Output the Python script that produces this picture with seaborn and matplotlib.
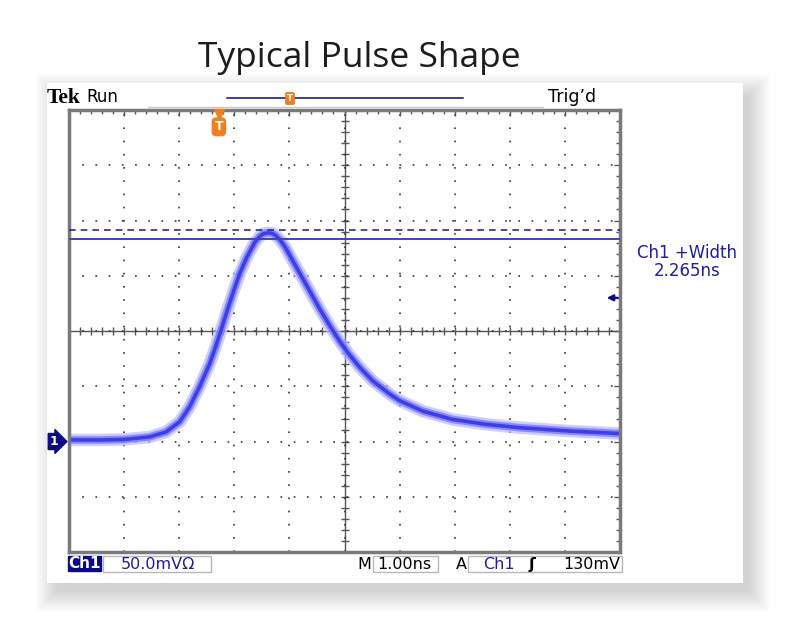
import numpy as np
import pandas as pd
import matplotlib.pyplot as plt
import matplotlib.ticker as mticker
from matplotlib.patches import Rectangle
import seaborn as sns


# Pulse trace (time in ns, amplitude in mV)
time_ns = [-5.01, -4.45, -4.01, -3.54, -3.24, -2.99, -2.81, -2.63, -2.45, -2.33,
           -2.24, -2.12, -2.00, -1.91, -1.78, -1.63, -1.55, -1.48, -1.40, -1.32,
           -1.25, -1.18, -1.09, -1.00, -0.82, -0.64, -0.45, -0.27, -0.09, 0.09,
           0.27, 0.51, 0.82, 1.00, 1.42, 1.96, 2.58, 3.18, 4.08, 4.99]
amp_mv = [1.4, 1.4, 1.8, 4.1, 8.6, 17.9, 31.5, 49.6, 70.0, 87.0,
          101.0, 120.0, 138.0, 151.0, 166.0, 180.0, 185.0, 187.8, 188.8, 188.5,
          186.5, 183.0, 177.0, 169.0, 153.0, 137.0, 120.0, 105.0, 91.0, 78.5,
          67.5, 55.0, 43.0, 37.0, 27.5, 20.0, 15.5, 12.5, 9.5, 7.2]

# scope settings / readouts
ns_per_div = 1.0
mv_per_div = 50.0
ground_mv = 0
cursor_solid_mv = 183
cursor_dashed_mv = 191
trigger_mv = 130
trigger_ns = -2.28

W, H = 792, 630
navy = '#1e1e9e'
dark_navy = '#0a0a84'
orange = '#f07f1e'


def fx(x):
    return x / W


def fy(y):
    return 1 - y / H


def pixBox(x0, y0, x1, y1, fc='white', ec='#b8b8b8', lw=1.0, z=2, alpha=1.0):
    fig.add_artist(Rectangle((fx(x0), fy(y1)), fx(x1) - fx(x0), fy(y0) - fy(y1),
                             transform=fig.transFigure, fc=fc, ec=ec, lw=lw,
                             zorder=z, alpha=alpha))


def pixText(x, y, s, **kw):
    kw.setdefault('family', 'DejaVu Sans')
    kw.setdefault('va', 'center')
    kw.setdefault('fontsize', 11.5)
    fig.text(fx(x), fy(y), s, **kw)


sns.set_style('white')
fig = plt.figure(figsize=(W / 100, H / 100), dpi=100)
fig.patch.set_facecolor('white')

# card with soft drop shadow (mostly below and right)
for k in range(22):
    pixBox(47 + 10 - k, 83 + 12 - k, 743 + 6 + k, 583 + 8 + k,
           fc='black', ec='none', lw=0, z=-20, alpha=0.0095)
pixBox(47, 83, 743, 583, fc='white', ec='none', lw=0, z=-10)

# graticule axes
ax = fig.add_axes([fx(69), fy(552), fx(620) - fx(69), fy(110) - fy(552)])
ax.set_facecolor('white')
ax.set_xlim(-5 * ns_per_div, 5 * ns_per_div)
ax.set_ylim(ground_mv - 2 * mv_per_div, ground_mv + 6 * mv_per_div)
ax.set_xticks(np.arange(-5, 5.01, ns_per_div))
ax.set_yticks(np.arange(-100, 300.1, mv_per_div))
ax.xaxis.set_minor_locator(mticker.MultipleLocator(ns_per_div / 5))
ax.yaxis.set_minor_locator(mticker.MultipleLocator(mv_per_div / 5))
ax.tick_params(which='both', direction='in', top=True, right=True,
               labelbottom=False, labelleft=False, color='#555555', width=1)
ax.tick_params(which='major', length=4)
ax.tick_params(which='minor', length=3)
ax.grid(True, which='major', color='#333333', linestyle=(0, (1, 6.93)), linewidth=1.2)
for s in ax.spines.values():
    s.set_color('#7a7a7a')
    s.set_linewidth(2.5)

# centre lines with fine ticks
cx = ax.secondary_xaxis(0.5)
cx.set_xticks(np.arange(-5, 5.01, ns_per_div / 5))
cx.tick_params(direction='inout', length=6, width=1, color='#555555',
               labeltop=False, labelbottom=False)
for s in cx.spines.values():
    s.set_linestyle((0, (1, 1)))
    s.set_color('#555555')
    s.set_linewidth(1)
cy = ax.secondary_yaxis(0.5)
cy.set_yticks(np.arange(-100, 300.1, mv_per_div / 5))
cy.tick_params(direction='inout', length=6, width=1, color='#555555',
               labelleft=False, labelright=False)
for s in cy.spines.values():
    s.set_linestyle((0, (1, 1)))
    s.set_color('#555555')
    s.set_linewidth(1)

# persistence-style trace
df = pd.DataFrame({'t': time_ns, 'mv': amp_mv})
sns.lineplot(data=df, x='t', y='mv', ax=ax, sort=False, estimator=None,
             color='#b8b8ff', lw=9, alpha=0.7, solid_capstyle='butt',
             solid_joinstyle='round')
sns.lineplot(data=df, x='t', y='mv', ax=ax, sort=False, estimator=None,
             color='#7a7af5', lw=5.5, alpha=0.8, solid_capstyle='butt',
             solid_joinstyle='round')
sns.lineplot(data=df, x='t', y='mv', ax=ax, sort=False, estimator=None,
             color='#3e3ee8', lw=2.6, solid_capstyle='butt', solid_joinstyle='round')
ax.set_xlabel('')
ax.set_ylabel('')

# measurement cursors
ax.axhline(cursor_solid_mv, color='#4242b4', lw=1.4, zorder=4)
ax.axhline(cursor_dashed_mv, color='#2a2a96', lw=1.2, ls=(0, (4, 3)), zorder=4)

# trigger level arrow on the right edge
ax.annotate('', xy=(4.76, trigger_mv), xytext=(4.96, trigger_mv),
            arrowprops=dict(arrowstyle='-|>', color=dark_navy, lw=1.6,
                            mutation_scale=9, shrinkA=0, shrinkB=0),
            annotation_clip=False, zorder=6)

# channel 1 ground marker
ax.text(-0.027, ground_mv, '1', transform=ax.get_yaxis_transform(),
        ha='center', va='center', color='white', fontsize=9, fontweight='bold',
        family='DejaVu Sans',
        bbox=dict(boxstyle='rarrow,pad=0.12', fc=dark_navy, ec=dark_navy))

# trigger position marker
ax.plot([trigger_ns], [0.99], marker='v', ms=7, color=orange,
        transform=ax.get_xaxis_transform(), clip_on=False, zorder=6)
ax.text(trigger_ns, 0.962, 'T', transform=ax.get_xaxis_transform(),
        ha='center', va='center', color='white', fontsize=9, fontweight='bold',
        family='DejaVu Sans',
        bbox=dict(boxstyle='round,pad=0.18,rounding_size=0.3', fc=orange, ec=orange))

# header line
fig.add_artist(plt.Line2D([fx(148), fx(543)], [fy(107), fy(107)],
                          transform=fig.transFigure, color='#c8c8c8', lw=1))
fig.add_artist(plt.Line2D([fx(227), fx(463)], [fy(98), fy(98)],
                          transform=fig.transFigure, color='#3a3aa8', lw=1.4))
pixText(290, 98.5, 'T', ha='center', color='white', fontsize=6, fontweight='bold',
        bbox=dict(boxstyle='round,pad=0.15', fc=orange, ec=orange))
pixText(47, 98, 'Tek', family='Liberation Serif', fontweight='bold', fontsize=15.5, color='black')
pixText(86, 97, 'Run', fontsize=12, color='black')
pixText(548, 97, 'Trig\u2019d', fontsize=12.5, color='black')

# bottom readouts
pixBox(68, 556, 101, 571, fc=dark_navy, ec=dark_navy)
pixText(84.5, 563.5, 'Ch1', ha='center', color='white', fontsize=11, fontweight='bold')
pixBox(103, 556, 211, 572)
pixText(121, 564.5, '50.0mV\u03a9', color=navy)
pixText(364, 564.5, 'M', ha='center', color='black')
pixBox(373, 556, 438, 572)
pixText(377, 564.5, '1.00ns', color='black')
pixText(461, 564.5, 'A', ha='center', color='black')
pixBox(468, 556, 622, 572)
pixText(483, 564.5, 'Ch1', color=navy)
pixText(532, 564.5, '\u0283', ha='center', color='black', fontweight='bold')
pixText(620, 564.5, '130mV', ha='right', color='black')

# measurement readout
pixText(687, 253, 'Ch1 +Width', ha='center', color=navy, fontsize=12)
pixText(687, 271, '2.265ns', ha='center', color=navy, fontsize=12)

# slide title
fig.text(fx(359), fy(66.7), 'Typical Pulse Shape', ha='center', va='baseline',
         family='Open Sans', fontsize=25.5, color='#1c1c1c')

fig.savefig('out.png', dpi=100)
